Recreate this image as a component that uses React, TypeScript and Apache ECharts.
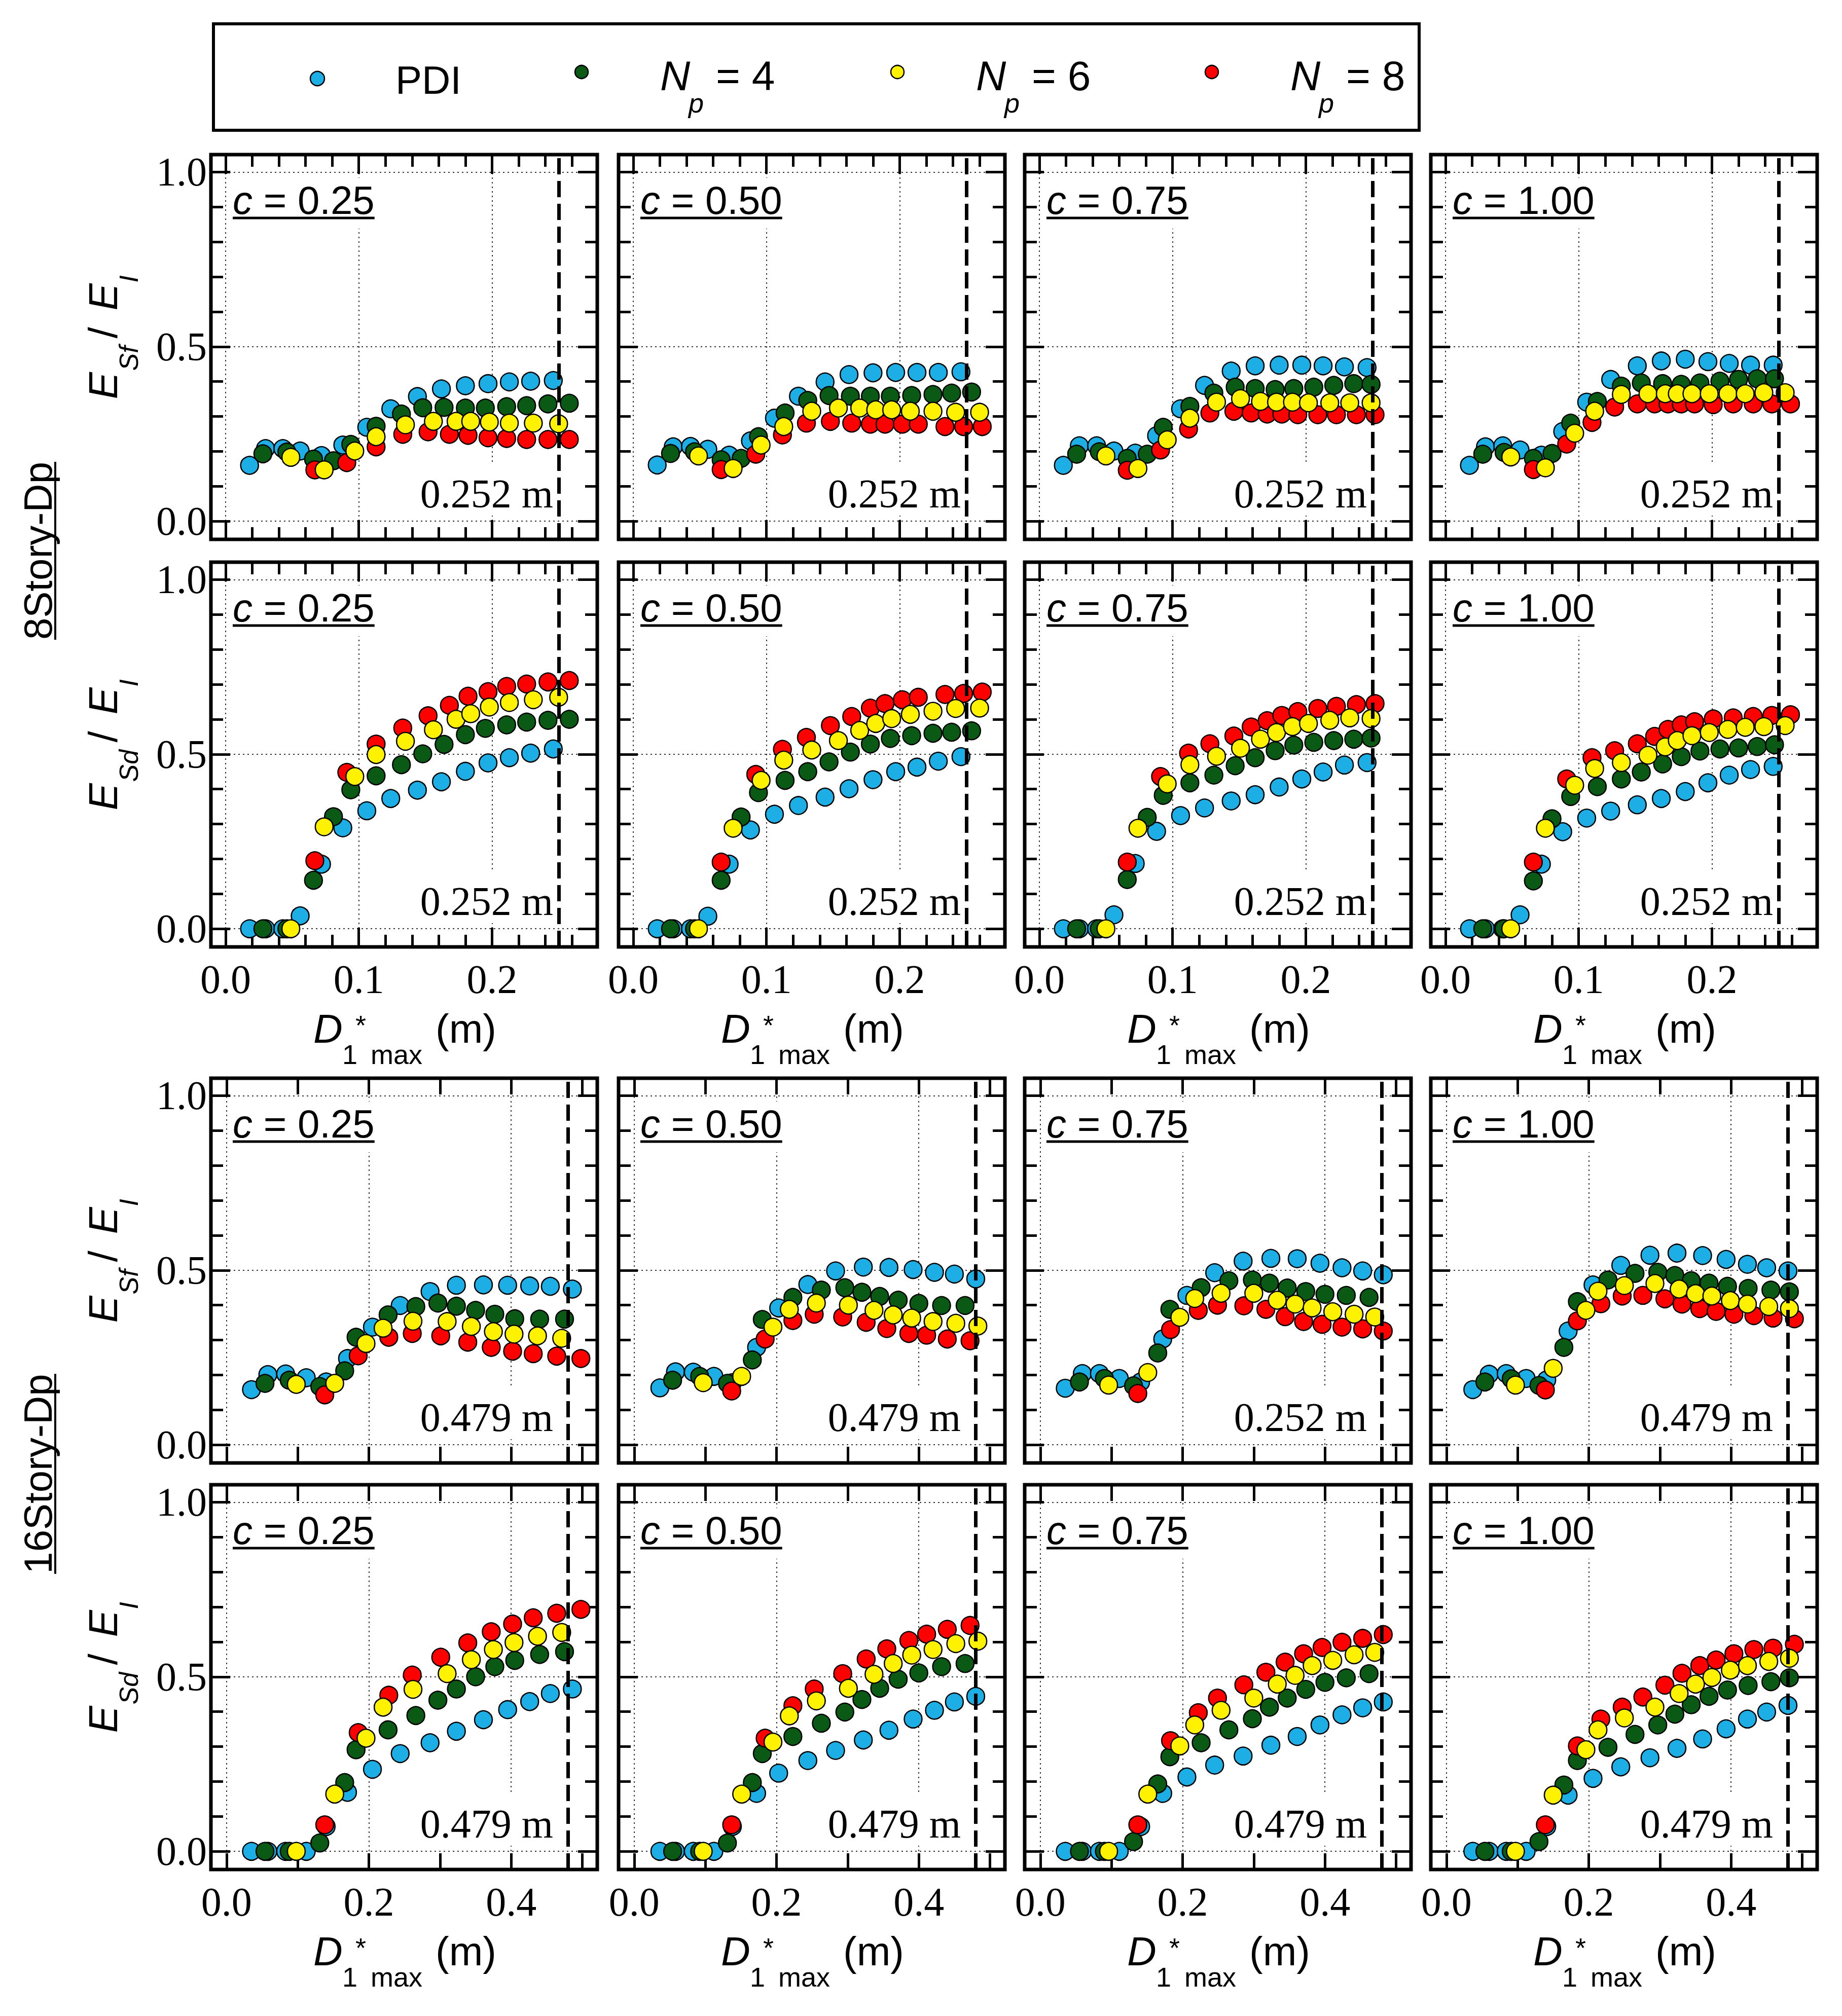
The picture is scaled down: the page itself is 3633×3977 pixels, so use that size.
import { useEffect, useRef } from 'react'
import * as echarts from 'echarts'

const W = 3633
const H = 3977
const SANS = 'Liberation Sans'
const SERIF = 'Liberation Serif'

// PDI, Np = 4, Np = 6, Np = 8
const SERIES_NAMES = ['PDI', 'Np = 4', 'Np = 6', 'Np = 8']
const COLORS = ['#1EAEE6', '#0A5A16', '#FFF200', '#FF0000']
const DRAW_ORDER = [0, 1, 3, 2]
const NP_VALUES = ['4', '6', '8']

const C_VALUES = ['0.25', '0.50', '0.75', '1.00']
const STORIES = ['8Story-Dp', '16Story-Dp']
const LIMIT_X = [0.252, 0.479]
// as printed in each panel (16-story, c = 0.75, E_Sf panel says 0.252 m)
const LIMIT_TEXT = [
  ['0.252 m', '0.252 m', '0.252 m', '0.252 m'],
  ['0.252 m', '0.252 m', '0.252 m', '0.252 m'],
  ['0.479 m', '0.479 m', '0.252 m', '0.479 m'],
  ['0.479 m', '0.479 m', '0.479 m', '0.479 m'],
]

const X_RANGE = [[-0.011, 0.279], [-0.022, 0.521]]
const Y_RANGE = [-0.052, 1.05]
const X_MAJOR = [[0, 0.1, 0.2], [0, 0.2, 0.4]]
const X_MINOR = [[0.02, 0.04, 0.06, 0.08, 0.12, 0.14, 0.16, 0.18, 0.22, 0.24, 0.26], [0.1, 0.3, 0.5]]
const Y_MAJOR = [0, 0.5, 1]
const Y_MINOR = [0.1, 0.2, 0.3, 0.4, 0.6, 0.7, 0.8, 0.9]

// panel boxes in px
const COL_X = [416, 1220, 2021, 2822]
const ROW_Y = [305, 1109, 2127, 2929]
const PW = 762
const PH = 759

// ---------- 8-story, D1*max (m) per series: [PDI, Np4, Np6, Np8]
const X8_PDI = [0.018, 0.030, 0.043, 0.056, 0.072, 0.088, 0.106, 0.124, 0.144, 0.162, 0.180, 0.197, 0.213, 0.229, 0.246]
const X8_C25 = [
  X8_PDI,
  [0.028, 0.046, 0.066, 0.081, 0.094, 0.113, 0.132, 0.148, 0.164, 0.180, 0.195, 0.211, 0.226, 0.242, 0.258],
  [0.049, 0.074, 0.097, 0.113, 0.135, 0.156, 0.173, 0.184, 0.198, 0.213, 0.231, 0.250],
  [0.067, 0.091, 0.113, 0.133, 0.152, 0.168, 0.182, 0.197, 0.211, 0.226, 0.242, 0.258],
]
const X8_C50 = [
  X8_PDI,
  [0.028, 0.046, 0.066, 0.081, 0.094, 0.114, 0.131, 0.147, 0.163, 0.178, 0.193, 0.209, 0.225, 0.239, 0.254],
  [0.049, 0.075, 0.096, 0.113, 0.134, 0.154, 0.170, 0.182, 0.194, 0.208, 0.225, 0.242, 0.260],
  [0.066, 0.092, 0.112, 0.130, 0.148, 0.164, 0.178, 0.189, 0.202, 0.214, 0.234, 0.248, 0.262],
]
const X8_C75 = [
  X8_PDI,
  [0.028, 0.045, 0.066, 0.081, 0.093, 0.113, 0.131, 0.147, 0.162, 0.177, 0.191, 0.206, 0.221, 0.236, 0.249],
  [0.050, 0.074, 0.096, 0.113, 0.133, 0.151, 0.166, 0.178, 0.190, 0.202, 0.218, 0.233, 0.249],
  [0.066, 0.091, 0.112, 0.128, 0.146, 0.159, 0.171, 0.182, 0.194, 0.209, 0.223, 0.238, 0.252],
]
const X8_C100 = [
  X8_PDI,
  [0.028, 0.044, 0.066, 0.080, 0.094, 0.114, 0.132, 0.147, 0.163, 0.177, 0.191, 0.206, 0.220, 0.234, 0.247],
  [0.049, 0.075, 0.097, 0.112, 0.132, 0.152, 0.165, 0.174, 0.185, 0.198, 0.212, 0.225, 0.239, 0.255],
  [0.066, 0.091, 0.110, 0.127, 0.144, 0.157, 0.167, 0.177, 0.187, 0.201, 0.216, 0.231, 0.245, 0.259],
]

// 8-story E_Sf / E_I
const ESF8_C25 = [
  [0.160, 0.208, 0.208, 0.201, 0.188, 0.218, 0.269, 0.322, 0.357, 0.379, 0.388, 0.394, 0.399, 0.401, 0.403],
  [0.193, 0.198, 0.178, 0.173, 0.220, 0.272, 0.307, 0.325, 0.326, 0.324, 0.324, 0.328, 0.331, 0.336, 0.338],
  [0.183, 0.147, 0.201, 0.242, 0.276, 0.286, 0.286, 0.286, 0.284, 0.281, 0.281, 0.279],
  [0.147, 0.168, 0.213, 0.249, 0.256, 0.249, 0.246, 0.239, 0.237, 0.234, 0.234, 0.234],
]
const ESF8_C50 = [
  [0.161, 0.213, 0.214, 0.206, 0.189, 0.230, 0.295, 0.358, 0.399, 0.420, 0.425, 0.426, 0.426, 0.426, 0.428],
  [0.194, 0.199, 0.176, 0.180, 0.242, 0.310, 0.346, 0.360, 0.358, 0.358, 0.358, 0.360, 0.363, 0.367, 0.370],
  [0.187, 0.151, 0.218, 0.271, 0.315, 0.324, 0.324, 0.319, 0.319, 0.315, 0.315, 0.312, 0.312],
  [0.148, 0.192, 0.247, 0.281, 0.286, 0.281, 0.278, 0.278, 0.278, 0.278, 0.271, 0.271, 0.271],
]
const ESF8_C75 = [
  [0.160, 0.216, 0.216, 0.201, 0.195, 0.245, 0.322, 0.389, 0.430, 0.445, 0.447, 0.447, 0.445, 0.442, 0.440],
  [0.192, 0.199, 0.180, 0.192, 0.269, 0.329, 0.367, 0.384, 0.380, 0.377, 0.380, 0.384, 0.389, 0.394, 0.392],
  [0.187, 0.151, 0.233, 0.295, 0.341, 0.351, 0.343, 0.341, 0.341, 0.339, 0.339, 0.339, 0.339],
  [0.146, 0.204, 0.264, 0.310, 0.315, 0.310, 0.307, 0.307, 0.305, 0.305, 0.305, 0.305, 0.305],
]
const ESF8_C100 = [
  [0.160, 0.213, 0.216, 0.204, 0.189, 0.257, 0.341, 0.406, 0.445, 0.459, 0.464, 0.457, 0.452, 0.447, 0.447],
  [0.192, 0.197, 0.180, 0.194, 0.281, 0.343, 0.387, 0.396, 0.394, 0.392, 0.396, 0.401, 0.406, 0.408, 0.408],
  [0.184, 0.153, 0.252, 0.315, 0.363, 0.365, 0.365, 0.365, 0.365, 0.365, 0.365, 0.365, 0.368, 0.368],
  [0.148, 0.221, 0.283, 0.327, 0.336, 0.336, 0.336, 0.336, 0.336, 0.334, 0.336, 0.336, 0.336, 0.336],
]

// 8-story E_Sd / E_I
const ESD8_C25 = [
  [0, 0, 0, 0.037, 0.185, 0.289, 0.338, 0.373, 0.397, 0.421, 0.451, 0.475, 0.490, 0.503, 0.515],
  [0, 0, 0.139, 0.321, 0.398, 0.438, 0.470, 0.501, 0.528, 0.556, 0.574, 0.584, 0.592, 0.597, 0.600],
  [0, 0.292, 0.436, 0.499, 0.537, 0.570, 0.600, 0.616, 0.635, 0.648, 0.656, 0.663],
  [0.195, 0.448, 0.529, 0.575, 0.610, 0.640, 0.666, 0.679, 0.694, 0.701, 0.707, 0.711],
]
const ESD8_C50 = [
  [0, 0, 0, 0.036, 0.185, 0.283, 0.328, 0.353, 0.377, 0.401, 0.427, 0.450, 0.463, 0.480, 0.493],
  [0, 0, 0.139, 0.320, 0.390, 0.425, 0.450, 0.478, 0.506, 0.529, 0.545, 0.553, 0.560, 0.563, 0.567],
  [0, 0.288, 0.425, 0.483, 0.512, 0.539, 0.568, 0.588, 0.602, 0.614, 0.623, 0.631, 0.632],
  [0.191, 0.442, 0.514, 0.548, 0.582, 0.608, 0.632, 0.645, 0.656, 0.663, 0.671, 0.674, 0.678],
]
const ESD8_C75 = [
  [0, 0, 0, 0.040, 0.187, 0.279, 0.324, 0.346, 0.366, 0.384, 0.406, 0.429, 0.449, 0.469, 0.476],
  [0, 0, 0.141, 0.319, 0.382, 0.418, 0.440, 0.467, 0.490, 0.510, 0.526, 0.534, 0.539, 0.543, 0.546],
  [0, 0.288, 0.415, 0.470, 0.494, 0.517, 0.543, 0.562, 0.579, 0.588, 0.597, 0.604, 0.602],
  [0.191, 0.436, 0.503, 0.530, 0.552, 0.578, 0.596, 0.611, 0.622, 0.631, 0.637, 0.642, 0.645],
]
const ESD8_C100 = [
  [0, 0, 0, 0.040, 0.185, 0.278, 0.317, 0.337, 0.355, 0.373, 0.393, 0.418, 0.440, 0.456, 0.465],
  [0, 0, 0.137, 0.315, 0.379, 0.407, 0.429, 0.449, 0.472, 0.493, 0.509, 0.515, 0.518, 0.522, 0.527],
  [0, 0.288, 0.411, 0.459, 0.476, 0.497, 0.521, 0.539, 0.553, 0.562, 0.571, 0.577, 0.579, 0.582],
  [0.191, 0.429, 0.490, 0.510, 0.530, 0.551, 0.571, 0.584, 0.593, 0.601, 0.604, 0.608, 0.611, 0.613],
]

// ---------- 16-story, D1*max (m)
const X16_C25 = [
  [0.035, 0.058, 0.083, 0.112, 0.140, 0.170, 0.205, 0.244, 0.286, 0.323, 0.361, 0.395, 0.426, 0.455, 0.486],
  [0.054, 0.088, 0.131, 0.166, 0.182, 0.227, 0.266, 0.297, 0.323, 0.350, 0.377, 0.405, 0.440, 0.475],
  [0.098, 0.152, 0.196, 0.220, 0.262, 0.310, 0.344, 0.375, 0.404, 0.437, 0.471],
  [0.138, 0.185, 0.228, 0.261, 0.301, 0.339, 0.372, 0.402, 0.431, 0.464, 0.498],
]
const X16_C50 = [
  [0.036, 0.058, 0.083, 0.112, 0.138, 0.172, 0.203, 0.244, 0.283, 0.322, 0.358, 0.392, 0.422, 0.450, 0.480],
  [0.054, 0.092, 0.131, 0.166, 0.180, 0.223, 0.263, 0.296, 0.320, 0.345, 0.371, 0.400, 0.432, 0.465],
  [0.097, 0.151, 0.195, 0.218, 0.256, 0.301, 0.337, 0.364, 0.390, 0.420, 0.452, 0.483],
  [0.137, 0.184, 0.223, 0.253, 0.293, 0.326, 0.355, 0.386, 0.411, 0.440, 0.472],
]
const X16_C75 = [
  [0.035, 0.059, 0.083, 0.111, 0.141, 0.172, 0.206, 0.245, 0.285, 0.324, 0.361, 0.393, 0.424, 0.453, 0.482],
  [0.055, 0.090, 0.131, 0.165, 0.182, 0.226, 0.265, 0.298, 0.322, 0.347, 0.373, 0.400, 0.430, 0.462],
  [0.096, 0.151, 0.196, 0.217, 0.254, 0.300, 0.333, 0.358, 0.382, 0.411, 0.441, 0.470],
  [0.137, 0.183, 0.222, 0.249, 0.286, 0.317, 0.344, 0.370, 0.396, 0.424, 0.453, 0.482],
]
const X16_C100 = [
  [0.037, 0.060, 0.084, 0.112, 0.141, 0.171, 0.206, 0.245, 0.286, 0.324, 0.360, 0.393, 0.423, 0.450, 0.480],
  [0.054, 0.091, 0.130, 0.165, 0.184, 0.227, 0.265, 0.297, 0.321, 0.344, 0.369, 0.395, 0.424, 0.456, 0.482],
  [0.097, 0.150, 0.196, 0.213, 0.250, 0.293, 0.327, 0.350, 0.373, 0.399, 0.423, 0.453, 0.482],
  [0.139, 0.184, 0.217, 0.247, 0.276, 0.307, 0.331, 0.356, 0.379, 0.404, 0.432, 0.459, 0.489],
]

// 16-story E_Sf / E_I
const ESF16_C25 = [
  [0.158, 0.201, 0.203, 0.192, 0.180, 0.247, 0.337, 0.399, 0.439, 0.457, 0.458, 0.457, 0.455, 0.454, 0.446],
  [0.176, 0.185, 0.167, 0.212, 0.308, 0.372, 0.396, 0.406, 0.397, 0.385, 0.374, 0.361, 0.360, 0.360],
  [0.173, 0.176, 0.290, 0.334, 0.354, 0.353, 0.339, 0.324, 0.317, 0.312, 0.305],
  [0.143, 0.255, 0.308, 0.319, 0.312, 0.294, 0.279, 0.268, 0.261, 0.254, 0.247],
]
const ESF16_C50 = [
  [0.163, 0.209, 0.208, 0.196, 0.178, 0.279, 0.392, 0.459, 0.498, 0.509, 0.508, 0.502, 0.494, 0.489, 0.475],
  [0.185, 0.196, 0.176, 0.243, 0.359, 0.422, 0.443, 0.450, 0.437, 0.425, 0.414, 0.405, 0.399, 0.399],
  [0.178, 0.196, 0.337, 0.388, 0.406, 0.400, 0.385, 0.372, 0.363, 0.353, 0.348, 0.340],
  [0.154, 0.303, 0.356, 0.374, 0.366, 0.351, 0.333, 0.319, 0.314, 0.303, 0.298],
]
const ESF16_C75 = [
  [0.162, 0.204, 0.204, 0.190, 0.180, 0.303, 0.428, 0.493, 0.526, 0.534, 0.533, 0.520, 0.507, 0.498, 0.487],
  [0.180, 0.190, 0.169, 0.263, 0.388, 0.450, 0.470, 0.472, 0.463, 0.449, 0.439, 0.431, 0.428, 0.422],
  [0.171, 0.207, 0.365, 0.419, 0.434, 0.434, 0.414, 0.403, 0.392, 0.381, 0.374, 0.366],
  [0.147, 0.330, 0.385, 0.400, 0.398, 0.388, 0.367, 0.353, 0.345, 0.337, 0.332, 0.326],
]
const ESF16_C100 = [
  [0.158, 0.202, 0.204, 0.190, 0.186, 0.326, 0.458, 0.514, 0.543, 0.549, 0.542, 0.531, 0.517, 0.507, 0.498],
  [0.180, 0.189, 0.170, 0.279, 0.410, 0.472, 0.491, 0.494, 0.485, 0.470, 0.463, 0.454, 0.448, 0.443, 0.438],
  [0.171, 0.219, 0.385, 0.440, 0.456, 0.462, 0.446, 0.433, 0.426, 0.413, 0.403, 0.396, 0.390],
  [0.157, 0.355, 0.404, 0.426, 0.428, 0.418, 0.403, 0.390, 0.382, 0.374, 0.370, 0.363, 0.361],
]

// 16-story E_Sd / E_I
const ESD16_C25 = [
  [0, 0, 0, 0, 0.071, 0.169, 0.235, 0.280, 0.311, 0.344, 0.377, 0.406, 0.429, 0.452, 0.465],
  [0, 0, 0.024, 0.197, 0.291, 0.348, 0.389, 0.433, 0.465, 0.500, 0.529, 0.547, 0.564, 0.572],
  [0, 0.164, 0.324, 0.413, 0.464, 0.509, 0.549, 0.578, 0.598, 0.616, 0.627],
  [0.076, 0.340, 0.447, 0.505, 0.556, 0.597, 0.629, 0.651, 0.669, 0.682, 0.693],
]
const ESD16_C50 = [
  [0, 0, 0, 0, 0.071, 0.166, 0.224, 0.260, 0.289, 0.319, 0.347, 0.379, 0.404, 0.428, 0.444],
  [0, 0, 0.024, 0.197, 0.280, 0.329, 0.367, 0.399, 0.435, 0.467, 0.493, 0.511, 0.529, 0.538],
  [0, 0.164, 0.313, 0.388, 0.431, 0.467, 0.507, 0.538, 0.562, 0.578, 0.595, 0.602],
  [0.076, 0.324, 0.417, 0.465, 0.509, 0.551, 0.580, 0.604, 0.622, 0.636, 0.647],
]
const ESD16_C75 = [
  [0, 0, 0, 0, 0.071, 0.166, 0.213, 0.247, 0.273, 0.304, 0.329, 0.362, 0.391, 0.411, 0.428],
  [0, 0, 0.028, 0.193, 0.271, 0.311, 0.348, 0.380, 0.413, 0.439, 0.464, 0.484, 0.497, 0.509],
  [0, 0.164, 0.302, 0.362, 0.404, 0.439, 0.479, 0.504, 0.532, 0.547, 0.563, 0.570],
  [0.076, 0.317, 0.397, 0.439, 0.477, 0.513, 0.542, 0.566, 0.584, 0.599, 0.610, 0.621],
]
const ESD16_C100 = [
  [0, 0, 0, 0, 0.071, 0.161, 0.209, 0.242, 0.268, 0.295, 0.322, 0.351, 0.379, 0.399, 0.418],
  [0, 0, 0.028, 0.190, 0.260, 0.298, 0.335, 0.362, 0.393, 0.420, 0.444, 0.462, 0.475, 0.486, 0.497],
  [0, 0.161, 0.291, 0.348, 0.382, 0.413, 0.452, 0.479, 0.498, 0.519, 0.532, 0.544, 0.553],
  [0.076, 0.302, 0.379, 0.413, 0.442, 0.476, 0.510, 0.532, 0.548, 0.566, 0.578, 0.582, 0.593],
]

const X8 = [X8_C25, X8_C50, X8_C75, X8_C100]
const X16 = [X16_C25, X16_C50, X16_C75, X16_C100]
const ROW_X = [X8, X8, X16, X16]
const ROW_VALUES = [
  [ESF8_C25, ESF8_C50, ESF8_C75, ESF8_C100],
  [ESD8_C25, ESD8_C50, ESD8_C75, ESD8_C100],
  [ESF16_C25, ESF16_C50, ESF16_C75, ESF16_C100],
  [ESD16_C25, ESD16_C50, ESD16_C75, ESD16_C100],
]
const ROW_SUB = ['Sf', 'Sd', 'Sf', 'Sd']

let measureCtx: CanvasRenderingContext2D | null = null
function textWidth(text: string, size: number, family: string, italic = false) {
  if (!measureCtx) measureCtx = document.createElement('canvas').getContext('2d')
  if (!measureCtx) return text.length * size * 0.55
  measureCtx.font = `${italic ? 'italic ' : ''}${size}px "${family}"`
  return measureCtx.measureText(text).width
}

// text placed by its baseline (middle of the em box sits ~0.35 em above it)
function txt(x: number, baseline: number, text: string, size: number, o: any = {}) {
  const family = o.family ?? SANS
  return {
    type: 'text', x, y: baseline - size * (family === SERIF ? 0.34 : 0.35), z: o.z ?? 1, silent: true,
    style: {
      text, fontFamily: family, fontSize: size, fontStyle: o.italic ? 'italic' : 'normal',
      fill: '#000', align: o.align ?? 'left', verticalAlign: 'middle',
    },
  }
}

function valueAxis(gridIndex: number, position: string, range: number[], ticks: number[], len: number, split: boolean, labels: boolean) {
  const isX = position === 'bottom' || position === 'top'
  return {
    type: 'value', gridIndex, position, min: range[0], max: range[1], silent: true,
    axisLine: { show: false, onZero: false },
    axisTick: { show: true, inside: true, length: len, customValues: ticks, lineStyle: { color: '#000', width: 5 } },
    axisLabel: labels
      ? { show: true, customValues: ticks, formatter: (v: number) => v.toFixed(1), fontFamily: SERIF, fontSize: 80, color: '#000', margin: isX ? 24 : 8 }
      : { show: false },
    splitLine: split ? { show: true, lineStyle: { color: '#333', width: 2, type: [3, 6] } } : { show: false },
    minorTick: { show: false },
    minorSplitLine: { show: false },
  }
}

function buildOption() {
  const grid: any[] = []
  const xAxis: any[] = []
  const yAxis: any[] = []
  const series: any[] = []
  const graphic: any[] = []

  for (let r = 0; r < 4; r++) {
    const story = r < 2 ? 0 : 1
    for (let c = 0; c < 4; c++) {
      const g = r * 4 + c
      const left = COL_X[c]
      const top = ROW_Y[r]
      grid.push({
        left, top, width: PW, height: PH, show: true, borderColor: '#000', borderWidth: 7,
        backgroundColor: 'rgba(0,0,0,0)', containLabel: false, outerBoundsMode: 'none',
      })
      const xr = X_RANGE[story]
      const xLen = story === 0 ? 38 : 32
      const xMinorLen = story === 0 ? 24 : 32
      xAxis.push(
        valueAxis(g, 'bottom', xr, X_MAJOR[story], xLen, true, r % 2 === 1),
        valueAxis(g, 'bottom', xr, X_MINOR[story], xMinorLen, false, false),
        valueAxis(g, 'top', xr, X_MAJOR[story], xLen, false, false),
        valueAxis(g, 'top', xr, X_MINOR[story], xMinorLen, false, false),
      )
      yAxis.push(
        valueAxis(g, 'left', Y_RANGE, Y_MAJOR, 38, true, c === 0),
        valueAxis(g, 'left', Y_RANGE, Y_MINOR, 24, false, false),
        valueAxis(g, 'right', Y_RANGE, Y_MAJOR, 38, false, false),
        valueAxis(g, 'right', Y_RANGE, Y_MINOR, 24, false, false),
      )

      const xs = ROW_X[r][c]
      const ys = ROW_VALUES[r][c]
      DRAW_ORDER.forEach(k => {
        series.push({
          type: 'scatter', name: SERIES_NAMES[k], xAxisIndex: g * 4, yAxisIndex: g * 4,
          data: xs[k].map((x: number, i: number) => [x, ys[k][i]]),
          symbol: 'circle', symbolSize: 35, silent: true,
          itemStyle: { color: COLORS[k], borderColor: '#000', borderWidth: 2.5, opacity: 1 },
          markLine: k === 0 ? {
            silent: true, symbol: ['none', 'none'], label: { show: false },
            lineStyle: { color: '#000', width: 7, type: [32, 13] },
            data: [{ xAxis: LIMIT_X[story] }],
          } : undefined,
        })
      })

      // "c = 0.25" label, underlined, on a white patch
      const cRest = ' = ' + C_VALUES[c]
      const wc = textWidth('c', 78, SANS, true)
      const wr = textWidth(cRest, 78, SANS)
      const lx = left + 43
      const lb = top + 117
      graphic.push({ type: 'rect', z: 1, silent: true, shape: { x: lx - 10, y: top + 46, width: wc + wr + 20, height: 100 }, style: { fill: '#fff' } })
      graphic.push(txt(lx, lb, 'c', 78, { italic: true }))
      graphic.push(txt(lx + wc, lb, cRest, 78))
      graphic.push({ type: 'line', z: 1, silent: true, shape: { x1: lx, y1: lb + 8, x2: lx + wc + wr, y2: lb + 8 }, style: { stroke: '#000', lineWidth: 5 } })

      // limit displacement text
      const lt = LIMIT_TEXT[r][c]
      const wl = textWidth(lt, 80, SERIF)
      const right = left + 675
      const tb = top + PH - 63
      graphic.push({ type: 'rect', z: 1, silent: true, shape: { x: right - wl - 12, y: tb - 90, width: wl + 20, height: 106 }, style: { fill: '#fff' } })
      graphic.push(txt(right, tb, lt, 80, { family: SERIF, align: 'right' }))

      // x axis title under the bottom row of each block
      if (r % 2 === 1) {
        const cx = left + PW / 2
        const b = top + PH + 189
        graphic.push(txt(cx - 179, b, 'D', 80, { italic: true }))
        graphic.push(txt(cx - 122, b + 42, '1', 54))
        graphic.push(txt(cx - 96, b - 16, '*', 54))
        graphic.push(txt(cx - 66, b + 42, 'max', 54))
        graphic.push(txt(cx + 62, b, '(m)', 80))
      }

      // y axis title on the first column
      if (c === 0) {
        const d = ROW_SUB[r] === 'Sd' ? 14 : 0
        const yBottom = top + PH / 2 + 103 + d / 2
        graphic.push({
          type: 'group', x: 231, y: yBottom, rotation: Math.PI / 2, silent: true,
          children: [
            txt(0, 0, 'E', 80, { italic: true }),
            txt(56, 41, ROW_SUB[r], 52, { italic: true }),
            txt(120 + d, 0, '/', 80),
            txt(175 + d, 0, 'E', 80, { italic: true }),
            txt(230 + d, 41, 'I', 52, { italic: true }),
          ],
        })
      }
    }
  }

  // story labels, rotated and underlined
  STORIES.forEach((label, i) => {
    const cy = (ROW_Y[i * 2] + ROW_Y[i * 2 + 1] + PH) / 2
    const w = textWidth(label, 78, SANS)
    graphic.push({
      type: 'group', x: 75, y: cy, rotation: Math.PI / 2, silent: true,
      children: [
        { type: 'text', x: 0, y: 0, z: 1, style: { text: label, fontFamily: SANS, fontSize: 78, fill: '#000', align: 'center', verticalAlign: 'middle' } },
        { type: 'line', z: 1, shape: { x1: -w / 2, y1: 34, x2: w / 2, y2: 34 }, style: { stroke: '#000', lineWidth: 4 } },
      ],
    })
  })

  // legend box
  graphic.push({ type: 'rect', z: 5, silent: true, shape: { x: 421, y: 47, width: 2378, height: 210 }, style: { fill: '#fff', stroke: '#000', lineWidth: 6 } })
  graphic.push({ type: 'circle', z: 6, silent: true, shape: { cx: 626, cy: 155, r: 14 }, style: { fill: COLORS[0], stroke: '#000', lineWidth: 2.5 } })
  graphic.push(txt(780, 185, SERIES_NAMES[0], 78, { z: 6 }))
  const legendX = [1147, 1770, 2390]
  NP_VALUES.forEach((n, i) => {
    const cx = legendX[i]
    graphic.push({ type: 'circle', z: 6, silent: true, shape: { cx, cy: 142, r: 13 }, style: { fill: COLORS[i + 1], stroke: '#000', lineWidth: 2.5 } })
    graphic.push(txt(cx + 155, 178, 'N', 82, { italic: true, z: 6 }))
    graphic.push(txt(cx + 211, 222, 'p', 54, { italic: true, z: 6 }))
    graphic.push(txt(cx + 265, 178, '= ' + n, 82, { z: 6 }))
  })

  return {
    animation: false,
    backgroundColor: '#fff',
    grid,
    xAxis,
    yAxis,
    series,
    graphic: { elements: graphic },
  }
}

export default function App() {
  const ref = useRef<HTMLDivElement>(null)

  useEffect(() => {
    if (!ref.current) return
    document.body.style.margin = '0'
    const chart = echarts.init(ref.current, null, { renderer: 'svg' })
    chart.setOption(buildOption() as any)
    return () => { chart.dispose() }
  }, [])

  return <div ref={ref} style={{ width: W, height: H, background: '#fff' }} />
}
